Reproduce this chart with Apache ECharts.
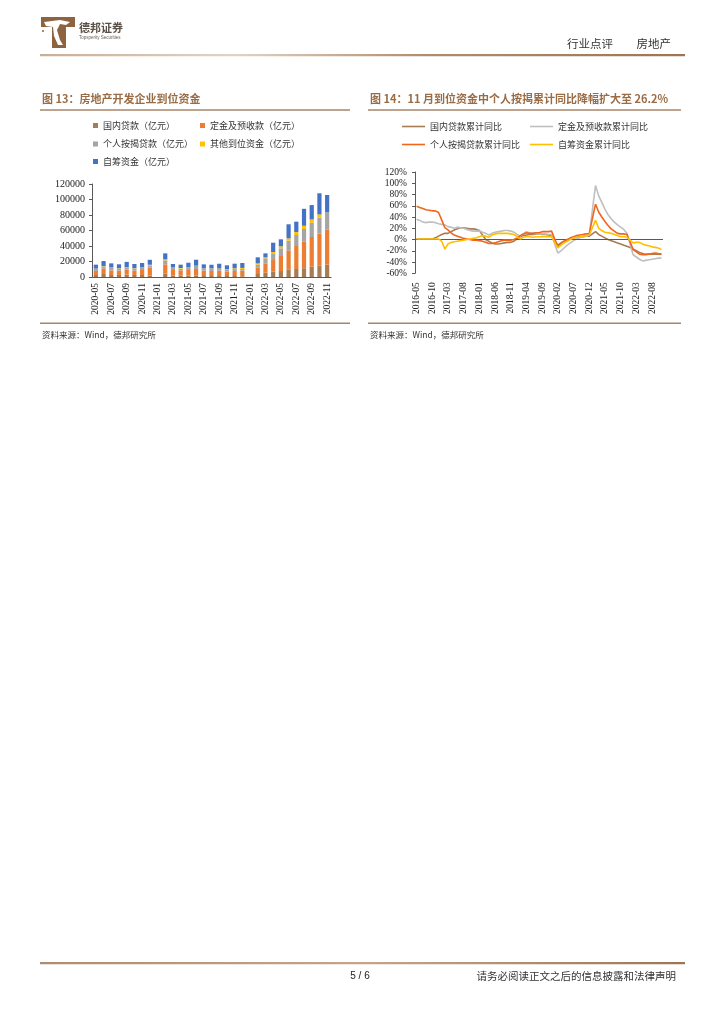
<!DOCTYPE html>
<html><head><meta charset="utf-8">
<script src="https://cdn.jsdelivr.net/npm/echarts@6/dist/echarts.min.js"></script>
<style>html,body{margin:0;padding:0;background:#fff}#c{width:724px;height:1024px}</style>
</head><body><div id="c"></div>
<script>
// ---------- Figure 13 data (亿元) ----------
const barCategories = ['2020-05','2020-06','2020-07','2020-08','2020-09','2020-10','2020-11','2020-12',
  '2021-01','2021-02','2021-03','2021-04','2021-05','2021-06','2021-07','2021-08','2021-09','2021-10','2021-11','2021-12',
  '2022-01','2022-02','2022-03','2022-04','2022-05','2022-06','2022-07','2022-08','2022-09','2022-10','2022-11'];
const domesticLoans = [2600,3900,2600,2600,3000,2600,2600,2000,null,4300,1700,1700,1700,1700,1300,1300,1300,1300,1300,900,null,3900,5600,6900,7700,9900,10300,11300,13200,14500,15883];
const depositsAdvance = [5200,6900,6000,5600,6400,5600,6400,10000,null,12000,7300,6900,7300,8600,6900,6500,6900,5600,6500,7300,null,8100,12000,15000,19400,24500,29700,34600,38400,41600,45516];
const mortgageLoans = [2800,3000,3400,3000,3000,3000,3000,2600,null,5200,3000,2200,2600,3900,2600,3000,2600,3000,2600,2200,null,3900,6500,8600,9900,12500,14200,16000,18400,20400,22082];
const otherFunds = [300,400,300,300,300,300,300,1200,null,1300,300,800,800,400,300,300,300,300,800,1300,null,1700,1300,1750,2600,3000,3800,4200,4300,4300,0];
const selfRaised = [5000,6400,5300,4900,6800,5300,5800,6400,null,7700,4500,4300,6000,7700,5200,4700,6000,4900,6000,6400,null,7800,5100,12000,9000,18100,13400,21900,18500,27200,22300];

// ---------- Figure 14 data (%) ----------
const lineCategories = ['2016-05','2016-06','2016-07','2016-08','2016-09','2016-10','2016-11','2016-12',
  '2017-01','2017-02','2017-03','2017-04','2017-05','2017-06','2017-07','2017-08','2017-09','2017-10','2017-11','2017-12',
  '2018-01','2018-02','2018-03','2018-04','2018-05','2018-06','2018-07','2018-08','2018-09','2018-10','2018-11','2018-12',
  '2019-01','2019-02','2019-03','2019-04','2019-05','2019-06','2019-07','2019-08','2019-09','2019-10','2019-11','2019-12',
  '2020-01','2020-02','2020-03','2020-04','2020-05','2020-06','2020-07','2020-08','2020-09','2020-10','2020-11','2020-12',
  '2021-01','2021-02','2021-03','2021-04','2021-05','2021-06','2021-07','2021-08','2021-09','2021-10','2021-11','2021-12',
  '2022-01','2022-02','2022-03','2022-04','2022-05','2022-06','2022-07','2022-08','2022-09','2022-10','2022-11'];
const domesticYoY = [1,1,1,1,1,1,3,6,9,11,11,14,17,19,21,21,20,19,19,18,16,8,0,-3,-6,-8,-8,-7,-6,-5,-5,-3,1,5,7,8,9,9,10,10,9,9,8,7,-2,-10,-6,-3,-1,1,3,4,5,5,6,6,10,14,9,6,3,0,-2,-4,-6,-8,-10,-12,-14,-17,-20,-23,-25,-26,-26,-26,-26,-26,-26];
const depositYoY = [36,34,31,30,31,31,30,28,27,26,23,22,20,22,21,20,18,16,15,15,15,13,11,8,11,13,14,15,16,16,15,13,9,6,10,14,12,11,11,10,10,10,9,9,-8,-24,-20,-15,-10,-6,-2,1,3,5,6,8,52,96,78,66,54,44,37,31,26,22,18,11,-8,-27,-31,-35,-38,-37,-36,-35,-34,-33,-33];
const mortgageYoY = [59,57,55,53,52,51,51,48,35,21,17,12,8,6,4,2,1,0,-1,-1,-2,-3,-5,-7,-7,-6,-4,-2,-1,-1,-1,0,3,7,10,12,11,11,12,12,14,14,14,15,1,-12,-7,-3,0,3,5,7,8,9,10,10,37,63,49,40,32,25,19,15,11,10,10,9,-4,-18,-22,-26,-27,-27,-26,-25,-24,-25,-26.2];
const selfRaisedYoY = [1,1,1,1,1,1,1,1,-3,-17,-8,-5,-4,-3,-2,-1,0,1,2,3,5,7,6,4,8,10,11,11,11,11,10,9,5,1,4,5,5,4,5,5,5,5,5,5,-5,-15,-10,-6,-3,0,3,4,5,6,7,8,21,34,20,16,13,12,11,9,7,5,5,4,-1,-6,-5,-5,-8,-10,-11,-13,-14,-15,-18];

const barNames = ['国内贷款（亿元）','定金及预收款（亿元）','个人按揭贷款（亿元）','其他到位资金（亿元）','自筹资金（亿元）'];
const lineNames = ['国内贷款累计同比','定金及预收款累计同比','个人按揭贷款累计同比','自筹资金累计同比'];

const CJK = '"Noto Sans CJK SC","Noto Sans",sans-serif';
const SERIF = '"Liberation Serif","DejaVu Serif",serif';
const brown = '#9A6C45';
const ruleColor = '#A8866A';
const barColors = ['#A67C55','#ED7D31','#A5A5A5','#FFC000','#4472C4'];
const lineColors = ['#A67C55','#BFBFBF','#F2651C','#FFC000'];

const chart = echarts.init(document.getElementById('c'), null, {renderer:'canvas'});

function txt(x,y,text,opt){
  return Object.assign({type:'text', x:x, y:y, silent:true,
    style:Object.assign({text:text, fill:'#333', fontSize:9, fontFamily:CJK, textAlign:'left', textVerticalAlign:'middle'}, opt||{})});
}
function hline(x1,x2,y,w,color){
  return {type:'rect', silent:true, shape:{x:x1,y:y-w/2,width:x2-x1,height:w}, style:{fill:color}};
}

const graphics = [
  // logo
  {type:'rect', silent:true, shape:{x:41,y:17,width:34,height:10}, style:{fill:'#8E6340'}},
  {type:'rect', silent:true, shape:{x:52,y:17,width:14,height:31}, style:{fill:'#8E6340'}},
  {type:'polygon', silent:true, shape:{points:[[44,22],[60,20],[70,22],[66,25],[60,24],[57,30],[60,40],[63,45],[58,45],[54,36],[53,27],[46,26]]}, style:{fill:'#fff'}},
  {type:'circle', silent:true, shape:{cx:43,cy:31,r:1}, style:{fill:'#8E6340'}},
  txt(79,28,'德邦证券',{fontSize:11,fontWeight:'bold',fill:'#5a5046'}),
  txt(79,38,'Topsperity Securities',{fontSize:4.5,fill:'#6a6058',fontFamily:'"Liberation Sans",Arial,sans-serif'}),
  txt(567,44,'行业点评',{fontSize:11.5,fill:'#333'}),
  txt(671,44,'房地产',{fontSize:11.5,fill:'#333',textAlign:'right'}),
  {type:'rect', silent:true, shape:{x:40,y:54,width:645,height:2.2},
   style:{fill:new echarts.graphic.LinearGradient(0,0,1,0,[{offset:0,color:'#C9AE96'},{offset:0.3,color:'#E2D2C4'},{offset:0.6,color:'#B08C6E'},{offset:1,color:'#9C7556'}])}},
  // Figure 13 titles
  txt(42,99,'图 13：房地产开发企业到位资金',{fontSize:11,fontWeight:'bold',fill:brown}),
  hline(40,350,110,1.6,ruleColor),
  hline(40,350,323.3,1.6,ruleColor),
  txt(42,334.5,'资料来源：Wind，德邦研究所',{fontSize:8.5,fill:'#333'}),
  // Figure 14 titles
  txt(370,99,'图 14：11 月到位资金中个人按揭累计同比降幅扩大至 26.2%',{fontSize:11,fontWeight:'bold',fill:brown}),
  hline(368,681,110,1.6,ruleColor),
  hline(368,681,323.3,1.6,ruleColor),
  txt(370,334.5,'资料来源：Wind，德邦研究所',{fontSize:8.5,fill:'#333'}),
  // footer
  {type:'rect', silent:true, shape:{x:40,y:962,width:645,height:2.2},
   style:{fill:new echarts.graphic.LinearGradient(0,0,1,0,[{offset:0,color:'#B08C6E'},{offset:0.5,color:'#C3A58C'},{offset:1,color:'#9C7556'}])}},
  txt(360,976,'5 / 6',{fontSize:10,fill:'#222',textAlign:'center',fontFamily:'"Liberation Sans",Arial,sans-serif'}),
  txt(676,976,'请务必阅读正文之后的信息披露和法律声明',{fontSize:10.5,fill:'#333',textAlign:'right'})
];

const legendBase = {padding:0, itemGap:0, selectedMode:false, textStyle:{fontSize:9, fontFamily:CJK, color:'#333'}};
const barLegendPos = [[93,121],[200,121],[93,139.5],[200,139.5],[93,157]];
const lineLegendPos = [[402,122],[530,122],[402,140],[530,140]];
const legends = [];
barNames.forEach((n,i)=>legends.push(Object.assign({}, legendBase, {data:[n], left:barLegendPos[i][0], top:barLegendPos[i][1], icon:'rect', itemWidth:5, itemHeight:5})));
lineNames.forEach((n,i)=>legends.push(Object.assign({}, legendBase, {data:[n], left:lineLegendPos[i][0], top:lineLegendPos[i][1], icon:'rect', itemWidth:23, itemHeight:1.6})));

const axisLabelSerif = {fontFamily:SERIF, color:'#222'};

const barValues = [domesticLoans, depositsAdvance, mortgageLoans, otherFunds, selfRaised];
const lineValues = [domesticYoY, depositYoY, mortgageYoY, selfRaisedYoY];

const series = [];
barNames.forEach((n,i)=>series.push({
  name:n, type:'bar', stack:'funds', xAxisIndex:0, yAxisIndex:0, barWidth:4.2,
  itemStyle:{color:barColors[i]}, data:barValues[i]
}));
lineNames.forEach((n,i)=>{
  const s = {name:n, type:'line', xAxisIndex:1, yAxisIndex:1, showSymbol:false, symbol:'none',
    connectNulls:true, lineStyle:{width:1.6, color:lineColors[i]}, itemStyle:{color:lineColors[i]}, data:lineValues[i], z:3+i};
  if(i===0){
    s.markLine = {silent:true, symbol:'none', label:{show:false}, animation:false,
      lineStyle:{color:'#595959', width:1, type:'solid'}, data:[{yAxis:0}]};
  }
  series.push(s);
});

chart.setOption({
  animation:false,
  backgroundColor:'#fff',
  graphic:graphics,
  legend:legends,
  grid:[
    {left:92, top:184, width:239, height:93},
    {left:415, top:172, width:248, height:101.3}
  ],
  xAxis:[
    {type:'category', gridIndex:0, data:barCategories,
     axisLine:{lineStyle:{color:'#595959', width:1.2}}, axisTick:{show:false},
     axisLabel:Object.assign({interval:1, rotate:90, fontSize:9.5, margin:6}, axisLabelSerif)},
    {type:'category', gridIndex:1, data:lineCategories, boundaryGap:true,
     axisLine:{show:false}, axisTick:{show:false},
     axisLabel:Object.assign({interval:4, rotate:90, fontSize:9.5, margin:9}, axisLabelSerif)}
  ],
  yAxis:[
    {type:'value', gridIndex:0, min:0, max:120000, interval:20000,
     splitLine:{show:false},
     axisLine:{show:true, lineStyle:{color:'#595959'}}, axisTick:{show:true, length:3, lineStyle:{color:'#595959'}},
     axisLabel:Object.assign({fontSize:10, margin:7, formatter:function(v){return String(v);}}, axisLabelSerif)},
    {type:'value', gridIndex:1, min:-60, max:120, interval:20,
     splitLine:{show:false},
     axisLine:{show:true, lineStyle:{color:'#595959'}}, axisTick:{show:true, length:3, lineStyle:{color:'#595959'}},
     axisLabel:Object.assign({fontSize:9.5, margin:8, formatter:'{value}%'}, axisLabelSerif)}
  ],
  series:series
});
</script>
</body></html>
